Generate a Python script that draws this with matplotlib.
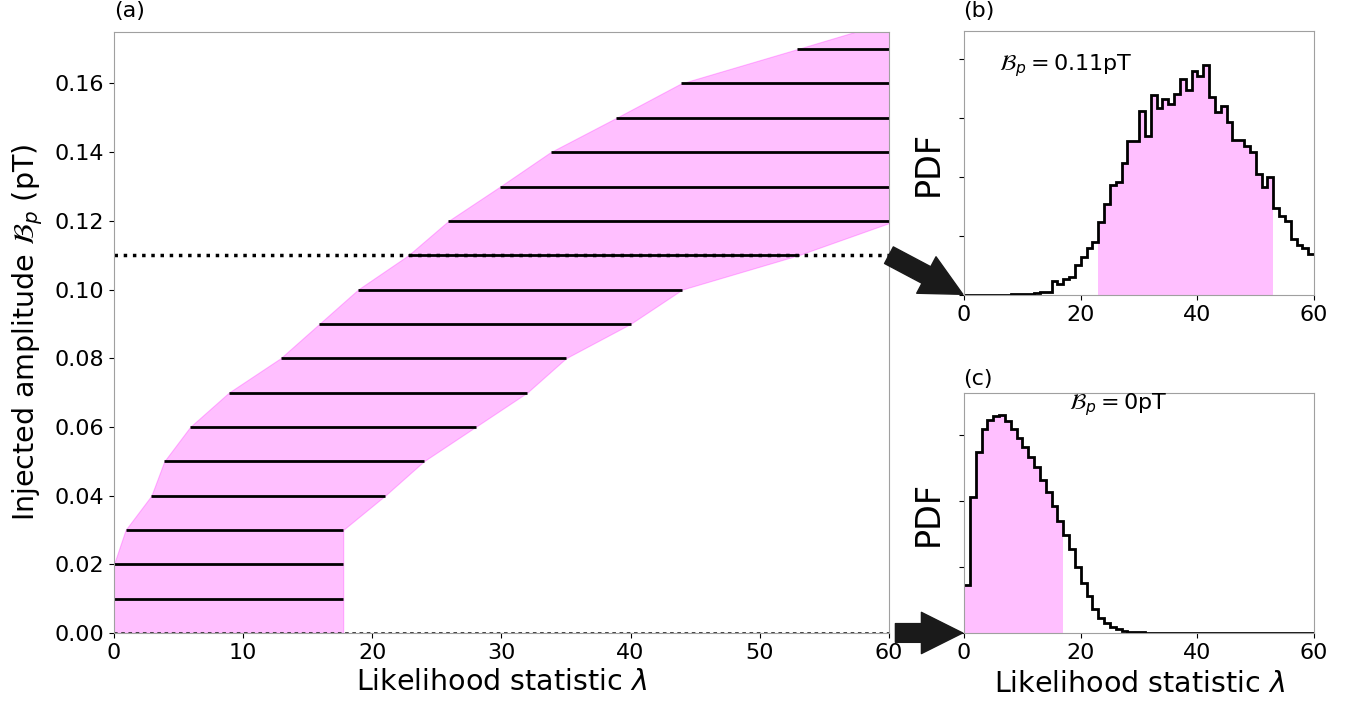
"""Confidence belt for the injected amplitude, with two example lambda PDFs."""

import matplotlib
matplotlib.use("Agg")
import matplotlib.pyplot as plt
import numpy as np
from matplotlib.patches import ConnectionPatch

# panel (a): Neyman belt, one row per injected amplitude (pT)
amplitudes = [0.00, 0.01, 0.02, 0.03, 0.04, 0.05, 0.06, 0.07, 0.08, 0.09,
              0.10, 0.11, 0.12, 0.13, 0.14, 0.15, 0.16, 0.17, 0.18]
lambda_low = [0.0, 0.0, 0.0, 0.9, 2.9, 3.9, 5.9, 8.9, 12.9, 15.9,
              18.9, 22.8, 25.9, 29.9, 33.8, 38.9, 43.9, 52.9, 61.8]
lambda_high = [17.75, 17.75, 17.75, 17.75, 21.0, 24.0, 28.0, 32.0, 35.0, 40.0,
               44.0, 53.0, 60.5, 66.0, 71.0, 76.0, 81.0, 86.0, 91.0]
amp_selected = 0.11

# panel (b): lambda histogram at B_p = 0.11 pT, unit bins 0..60
pdf_b = [0, 0, 0, 0, 0, 0, 0, 0, 0.0001, 0.0001,
         0.0002, 0.0002, 0.0003, 0.0005, 0.0005, 0.0024, 0.0019, 0.0027, 0.0031, 0.0050,
         0.0064, 0.0079, 0.0090, 0.0123, 0.0154, 0.0186, 0.0191, 0.0223, 0.0260, 0.0260,
         0.0312, 0.0269, 0.0338, 0.0316, 0.0331, 0.0323, 0.0340, 0.0366, 0.0347, 0.0380,
         0.0371, 0.0390, 0.0335, 0.0310, 0.0320, 0.0293, 0.0262, 0.0262, 0.0253, 0.0242,
         0.0205, 0.0182, 0.0199, 0.0147, 0.0133, 0.0126, 0.0094, 0.0085, 0.0080, 0.0069]
interval_b = (23, 53)

# panel (c): lambda histogram at B_p = 0 pT
pdf_c = [0.0145, 0.0412, 0.0548, 0.0618, 0.0644, 0.0658, 0.0660, 0.0642, 0.0618, 0.0590,
         0.0564, 0.0534, 0.0502, 0.0464, 0.0426, 0.0386, 0.0340, 0.0296, 0.0254, 0.0200,
         0.0152, 0.0112, 0.0074, 0.0046, 0.0030, 0.0018, 0.0011, 0.0007, 0.0004, 0.0002,
         0.0002, 0.0001, 0.0001, 0, 0, 0, 0, 0, 0, 0,
         0, 0, 0, 0, 0, 0, 0, 0, 0, 0,
         0, 0, 0, 0, 0, 0, 0, 0, 0, 0]
interval_c = (0, 17)

SPINE_COLOR = "#a0a0a0"
FILL_KW = dict(color="magenta", alpha=0.25, linewidth=0)


def style_axes(ax):
    for spine in ax.spines.values():
        spine.set_color(SPINE_COLOR)
    ax.tick_params(labelsize=16)


def draw_pdf(ax, pdf, interval, label_x, label_y, label):
    edges = np.arange(len(pdf) + 1)
    values = np.asarray(pdf)
    lo, hi = interval
    ax.stairs(values[lo:hi], edges[lo:hi + 1], fill=True, **FILL_KW)
    ax.stairs(values, edges, baseline=None, color="k", linewidth=2)
    ax.set_xlim(0, 60)
    ax.set_xticks([0, 20, 40, 60])
    ax.set_yticklabels([])
    ax.set_ylabel("PDF", fontsize=24)
    ax.yaxis.set_label_coords(-0.055, 0.5)
    ax.text(label_x, label_y, label, transform=ax.transAxes, fontsize=16, va="center")
    style_axes(ax)


fig = plt.figure(figsize=(13.63, 7.04), dpi=100)
ax_a = fig.add_axes([0.0836, 0.1009, 0.5686, 0.8537])
ax_b = fig.add_axes([0.7073, 0.5810, 0.2568, 0.3750])
ax_c = fig.add_axes([0.7073, 0.1009, 0.2568, 0.3409])

# (a) belt
ax_a.fill_betweenx(amplitudes, lambda_low, lambda_high, color="magenta", alpha=0.25,
                   linewidth=0.8)
for amp, lo, hi in zip(amplitudes[1:], lambda_low[1:], lambda_high[1:]):
    ax_a.plot([lo, min(hi, 60)], [amp, amp], color="k", linewidth=2, solid_capstyle="butt")
ax_a.axhline(amp_selected, color="k", linestyle=":", linewidth=2.5)
ax_a.axhline(0.0, color="#333333", linestyle=(0, (2, 2)), linewidth=1.3)
ax_a.set_xlim(0, 60)
ax_a.set_ylim(0, 0.175)
ax_a.set_xticks(np.arange(0, 61, 10))
ax_a.set_yticks(np.arange(0, 0.17, 0.02))
ax_a.yaxis.set_major_formatter(matplotlib.ticker.FormatStrFormatter("%.2f"))
ax_a.set_xlabel(r"Likelihood statistic $\lambda$", fontsize=20.5)
ax_a.set_ylabel(r"Injected amplitude $\mathcal{B}_p$ (pT)", fontsize=20.5)
ax_a.xaxis.set_label_coords(0.5, -0.058)
ax_a.yaxis.set_label_coords(-0.089, 0.5)
style_axes(ax_a)

# (b) and (c)
draw_pdf(ax_b, pdf_b, interval_b, 0.10, 0.87, r"$\mathcal{B}_p = 0.11$pT")
ax_b.set_ylim(0, 0.0447)
ax_b.set_yticks([0, 0.01, 0.02, 0.03, 0.04])
draw_pdf(ax_c, pdf_c, interval_c, 0.30, 0.95, r"$\mathcal{B}_p = 0$pT")
ax_c.set_ylim(0, 0.0727)
ax_c.set_yticks([0, 0.02, 0.04, 0.06])
ax_c.set_xlabel(r"Likelihood statistic $\lambda$", fontsize=20.5)
ax_c.xaxis.set_label_coords(0.5, -0.155)

fig.text(0.0836, 0.985, "(a)", fontsize=16, va="center")
fig.text(0.7066, 0.985, "(b)", fontsize=16, va="center")
fig.text(0.7066, 0.462, "(c)", fontsize=16, va="center")

# arrows from panel (a) to the origins of (b) and (c)
arrow_style = "simple,head_width=1.1,head_length=1.1,tail_width=0.5"
for xy_a, ax_target in [((60.0, amp_selected), ax_b), ((60.5, 0.0), ax_c)]:
    con = ConnectionPatch(xyA=xy_a, coordsA=ax_a.transData, xyB=(0, 0),
                          coordsB=ax_target.transData, arrowstyle=arrow_style,
                          mutation_scale=27, color="#1a1a1a", shrinkA=0, shrinkB=1)
    fig.add_artist(con)

fig.savefig("out.png", dpi=100)
